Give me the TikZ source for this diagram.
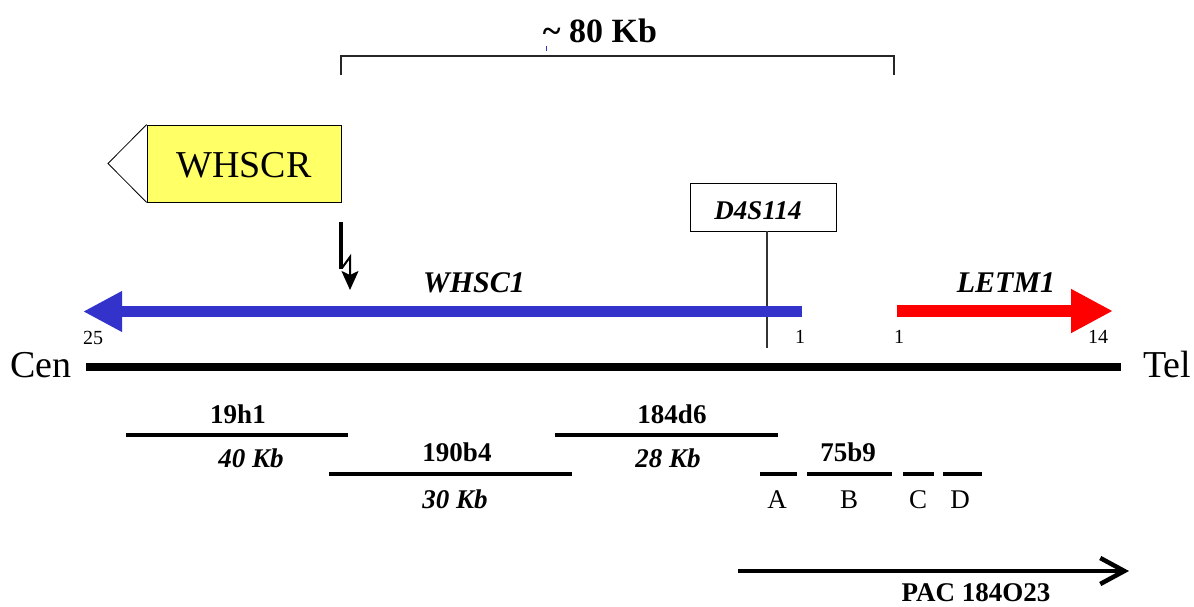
\documentclass[tikz,border=0pt]{standalone}
\usepackage{fontspec}
\setmainfont{Liberation Serif}
\usetikzlibrary{arrows.meta}
\definecolor{geneblue}{RGB}{51,51,204}
\definecolor{genered}{RGB}{255,0,0}
\definecolor{boxyellow}{RGB}{255,255,102}
\begin{document}
\begin{tikzpicture}[x=1pt,y=-1pt,
  txt/.style={inner sep=0pt,anchor=base},
  fbig/.style={font=\fontsize{38}{40}\selectfont},
  ftitle/.style={font=\fontsize{34}{38}\selectfont\bfseries},
  fgene/.style={font=\fontsize{30}{34}\selectfont\bfseries\itshape},
  fclone/.style={font=\fontsize{27}{30}\selectfont\bfseries},
  fsize/.style={font=\fontsize{27}{30}\selectfont\bfseries\itshape},
  fnum/.style={font=\fontsize{20}{22}\selectfont},
  fseg/.style={font=\fontsize{27}{30}\selectfont},
  clone/.style={line width=4pt},
  seg/.style={line width=4pt}]
\useasboundingbox (0,0) rectangle (1194,607);

% title bracket
\node[txt,ftitle] (title) at (600,43) {\textasciitilde{} 80 Kb};
\coordinate (bl) at (341,75);
\coordinate (blt) at (341,56);
\coordinate (brt) at (894,56);
\coordinate (br) at (894,75);
\draw[line width=1.3pt,black!85] (bl) -- (blt) -- (brt) -- (br);
\coordinate (tk1) at (546,46);
\coordinate (tk2) at (546,51);
\draw[geneblue,line width=0.8pt] (tk1) -- (tk2);

% WHSCR box
\node[draw,fill=boxyellow,minimum width=194pt,minimum height=77pt,inner sep=0pt,line width=0.8pt] (whscr) at (244,163.5) {};
\node[txt,fbig] (whscrt) at (244,177) {WHSCR};
\coordinate (tri) at (108,163.5);
\draw[fill=white,line width=0.8pt] (whscr.north west) -- (tri) -- (whscr.south west);

% down arrow
\coordinate (da1) at (341,222);
\coordinate (da2) at (341,269);
\coordinate (da3) at (350,257);
\coordinate (da4) at (350,290);
\draw[line width=4pt] (da1) -- (da2);
\draw[line width=2pt,-{Stealth[length=19pt,width=17pt,inset=4pt]}] (342,268) -- (da3) -- (da4);

% D4S114 marker
\node[draw,line width=0.8pt,minimum width=146pt,minimum height=48pt,inner sep=0pt] (d4) at (763,207) {};
\node[txt,fsize] (d4t) at (758,219) {D4S114};
\coordinate (d4e) at (767,348);
\draw[line width=1.2pt,black!80] (d4.south -| d4e) -- (d4e);

% genes
\coordinate (ws) at (802,311.5);
\coordinate (we) at (83,311.5);
\draw[geneblue,line width=11pt,-{Triangle[length=39pt,width=38pt]}] (ws) -- (we);
\node[txt,fgene] (whsc1) at (474,292) {WHSC1};
\coordinate (ls) at (897,311);
\coordinate (le) at (1113,311);
\draw[genered,line width=12pt,-{Triangle[length=42pt,width=41pt]}] (ls) -- (le);
\node[txt,fgene] (letm1) at (1006,292) {LETM1};
\node[txt,fnum] (n25) at (93,344) {25};
\node[txt,fnum] (n1a) at (800,343) {1};
\node[txt,fnum] (n1b) at (899,343) {1};
\node[txt,fnum] (n14) at (1098,343) {14};

% chromosome
\node[txt,fbig] (cen) at (41,377) {Cen};
\node[txt,fbig] (tel) at (1167,377) {Tel};
\coordinate (c1) at (86,367);
\coordinate (c2) at (1121,367);
\draw[line width=8.5pt] (c1) -- (c2);

% clones
\coordinate (a1) at (126,435); \coordinate (a2) at (348,435);
\draw[clone] (a1) -- (a2);
\node[txt,fclone] (l19) at (238,423) {19h1};
\node[txt,fsize] (s40) at (251,467) {40 Kb};

\coordinate (b1) at (329,474); \coordinate (b2) at (572,474);
\draw[clone] (b1) -- (b2);
\node[txt,fclone] (l190) at (457,461) {190b4};
\node[txt,fsize] (s30) at (455,508) {30 Kb};

\coordinate (c3) at (555,435); \coordinate (c4) at (778,435);
\draw[clone] (c3) -- (c4);
\node[txt,fclone] (l184) at (672,423) {184d6};
\node[txt,fsize] (s28) at (668,467) {28 Kb};

\node[txt,fclone] (l75) at (848,461) {75b9};
\coordinate (sa1) at (760,474); \coordinate (sa2) at (797,474);
\coordinate (sb1) at (807,474); \coordinate (sb2) at (892,474);
\coordinate (sc1) at (903,474); \coordinate (sc2) at (934,474);
\coordinate (sd1) at (943,474); \coordinate (sd2) at (982,474);
\draw[seg] (sa1) -- (sa2);
\draw[seg] (sb1) -- (sb2);
\draw[seg] (sc1) -- (sc2);
\draw[seg] (sd1) -- (sd2);
\node[txt,fseg] (lA) at (777,508) {A};
\node[txt,fseg] (lB) at (849,508) {B};
\node[txt,fseg] (lC) at (918,508) {C};
\node[txt,fseg] (lD) at (960,508) {D};

% PAC
\coordinate (p1) at (738,571);
\coordinate (p2) at (1129,571);
\draw[line width=4.5pt,-{Straight Barb[length=24pt,width=26pt]}] (p1) -- (p2);
\node[txt,fclone] (pac) at (976,601) {PAC 184O23};
\end{tikzpicture}
\end{document}
